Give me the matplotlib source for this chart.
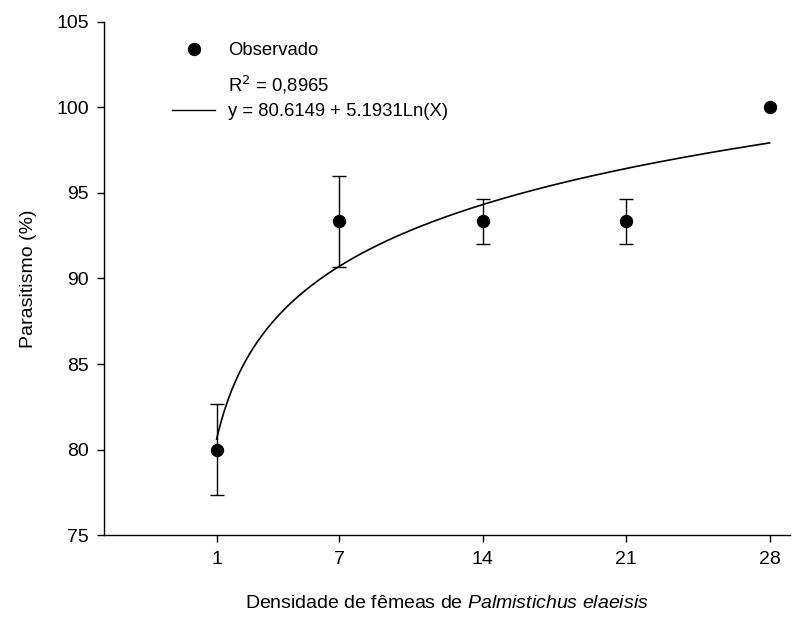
import numpy as np
import matplotlib

matplotlib.use("Agg")
import matplotlib.pyplot as plt
from matplotlib import rcParams

rcParams.update({
    "font.family": ["Liberation Sans", "DejaVu Sans"],
    "font.size": 14,
    "mathtext.fontset": "custom",
    "mathtext.rm": "Liberation Sans",
    "mathtext.it": "Liberation Sans:italic",
    "mathtext.bf": "Liberation Sans:bold",
    "axes.linewidth": 1.0,
    "xtick.major.width": 1.0, "ytick.major.width": 1.0,
    "xtick.major.size": 5, "ytick.major.size": 5,
    "xtick.direction": "out", "ytick.direction": "out",
})

# ── data ─────────────────────────────────────────────────────────────
densidade = [1, 7, 14, 21, 28]
parasitismo = [80.0, 93.33, 93.33, 93.33, 100.0]
erro = [2.67, 2.67, 1.33, 1.33, np.nan]
xtick_labels = ["1", "7", "14", "21", "28"]

coef_a = 80.6149
coef_b = 5.1931
r2_text = "0,8965"

# ── figure ───────────────────────────────────────────────────────────
fig = plt.figure(figsize=(8.06, 6.24), dpi=100)
ax = fig.add_axes([104 / 806, 1 - 535.3 / 624, 686 / 806, 513.6 / 624])

x_fit = np.linspace(min(densidade), max(densidade), 300)
y_fit = coef_a + coef_b * np.log(x_fit)
ax.plot(x_fit, y_fit, "-", color="black", lw=1.2, zorder=2)

ax.errorbar(densidade, parasitismo, yerr=erro, fmt="o", color="black",
            ecolor="black", elinewidth=1.0, capsize=5.2, capthick=1.0,
            markersize=8.6, zorder=3)

ax.set_xlim(-4.5, 29.0)
ax.set_ylim(75, 105)
ax.set_xticks(densidade)
ax.set_xticklabels(xtick_labels)
ax.set_yticks(np.arange(75, 106, 5))
ax.tick_params(labelsize=14, pad=6)

for s in ("top", "right"):
    ax.spines[s].set_visible(False)

ax.set_xlabel("Densidade de fêmeas de $\\it{Palmistichus\\ elaeisis}$",
              fontsize=14, labelpad=20)
ax.set_ylabel("Parasitismo (%)", fontsize=14, labelpad=14)

# ── legend block (drawn by hand, like the original) ──────────────────
tr = ax.transAxes
fs_leg = 13.3
ax.plot([0.131], [0.947], "o", color="black", markersize=8.6,
        transform=tr, clip_on=False)
ax.text(0.181, 0.9435, "Observado", transform=tr, fontsize=fs_leg,
        va="center", ha="left")
ax.text(0.181, 0.877, "R$^{\\mathsf{2}}$ = " + r2_text, transform=tr,
        fontsize=fs_leg, va="center", ha="left")
ax.plot([0.099, 0.162], [0.828, 0.828], "-", color="black", lw=1.0,
        transform=tr, clip_on=False)
ax.text(0.181, 0.825, f"y = {coef_a:.4f} + {coef_b:.4f}Ln(X)",
        transform=tr, fontsize=fs_leg, va="center", ha="left")

fig.savefig("out.png", dpi=100)
